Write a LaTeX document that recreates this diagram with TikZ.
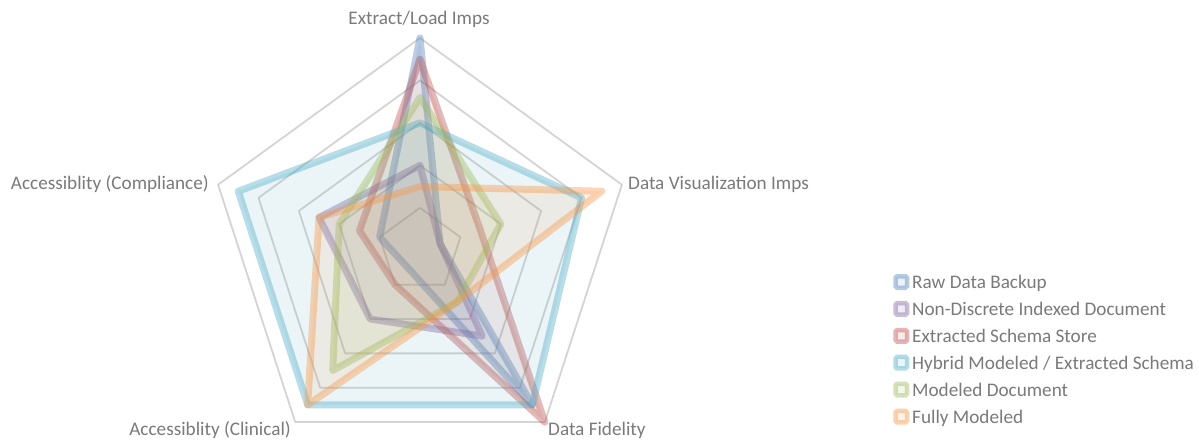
\documentclass[tikz,border=0pt]{standalone}
\usepackage{fontspec}
\setmainfont{Carlito}
\definecolor{sBlue}{HTML}{4F81BD}
\definecolor{sPurple}{HTML}{8064A2}
\definecolor{sRed}{HTML}{C0504D}
\definecolor{sAqua}{HTML}{4BACC6}
\definecolor{sGreen}{HTML}{9BBB59}
\definecolor{sOrange}{HTML}{F79646}
\definecolor{gridgray}{RGB}{212,212,212}
\definecolor{labelgray}{RGB}{122,122,122}
% length of one scale step on the radar axes
\newcommand{\ru}{42.46}
% one data series: values on the five axes, clockwise from the top
\newcommand{\radarpoly}[6]{%
  \draw[series=#1] (-90:{#2*\ru}) -- (-18:{#3*\ru}) -- (54:{#4*\ru})
    -- (126:{#5*\ru}) -- (198:{#6*\ru}) -- cycle;}
% one legend entry: row, colour, text, node name
\newcommand{\legendrow}[4]{%
  \node[legendmark=#2] (#4mark) at (901.3,{282+26.9*#1}) {};
  \node[lbl, anchor=base west] (#4) at (912,{288.5+26.9*#1}) {#3};}
\begin{document}
\begin{tikzpicture}[x=1pt, y=-1pt,
  series/.style={draw=#1, fill=#1, line width=7, line join=round,
    draw opacity=0.4, fill opacity=0.11},
  gridring/.style={draw=gridgray, line width=1.8, line join=round},
  lbl/.style={text=labelgray, inner sep=0, font=\fontsize{19.2}{23}\selectfont},
  legendmark/.style={draw=#1, fill=#1, line width=4.5, draw opacity=0.42,
    fill opacity=0.11, minimum size=11.5, inner sep=0, rounded corners=1.5}]
\useasboundingbox (0,0) rectangle (1199,441);
\fill[white] (0,0) rectangle (1199,441);

\begin{scope}[shift={(420,250.3)}]
  % scale rings
  \foreach \r in {1,...,5}
    \draw[gridring] (-90:{\r*\ru}) -- (-18:{\r*\ru}) -- (54:{\r*\ru})
      -- (126:{\r*\ru}) -- (198:{\r*\ru}) -- cycle;
  % series
  \radarpoly{sBlue}{5}{0.5}{4.5}{0.5}{1}
  \radarpoly{sPurple}{2}{0.5}{2.5}{2}{2.5}
  \radarpoly{sRed}{4.5}{1.5}{5}{1}{1.5}
  \radarpoly{sAqua}{3}{4}{4.5}{4.5}{4.5}
  \radarpoly{sGreen}{3.6}{2}{1.5}{3.5}{2}
  \radarpoly{sOrange}{1.5}{4.5}{1.5}{4.5}{2.5}
\end{scope}

% axis labels
\node[lbl, anchor=base] (axTop) at (419,24.5) {Extract/Load Imps};
\node[lbl, anchor=base west] (axVis) at (628,189.5) {Data Visualization Imps};
\node[lbl, anchor=base west] (axFid) at (548,435) {Data Fidelity};
\node[lbl, anchor=base east] (axClin) at (291,435) {Accessiblity (Clinical)};
\node[lbl, anchor=base east] (axComp) at (209,189.5) {Accessiblity (Compliance)};

% legend
\legendrow{0}{sBlue}{Raw Data Backup}{legRaw}
\legendrow{1}{sPurple}{Non-Discrete Indexed Document}{legNonDisc}
\legendrow{2}{sRed}{Extracted Schema Store}{legExtr}
\legendrow{3}{sAqua}{Hybrid Modeled / Extracted Schema}{legHybrid}
\legendrow{4}{sGreen}{Modeled Document}{legModDoc}
\legendrow{5}{sOrange}{Fully Modeled}{legFull}
\end{tikzpicture}
\end{document}
